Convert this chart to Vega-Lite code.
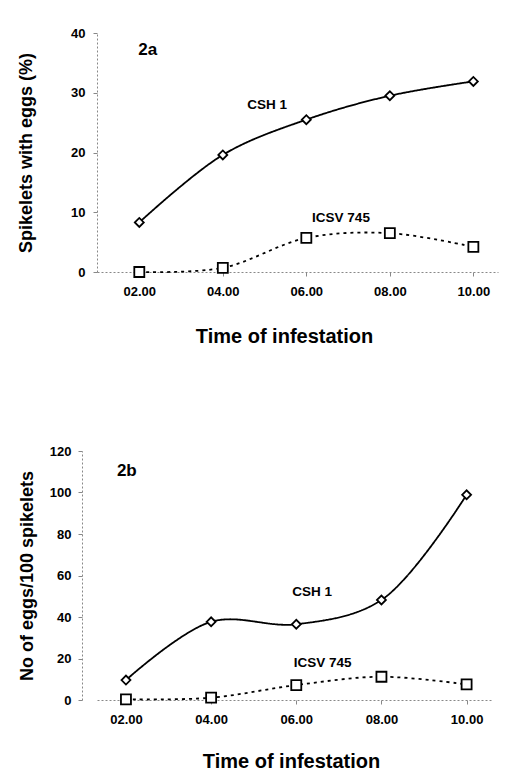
{
  "$schema": "https://vega.github.io/schema/vega-lite/v6.json",
  "background": "white",
  "padding": {"left": 17, "top": 27, "right": 5, "bottom": 0},
  "spacing": 99,
  "config": {
    "view": {"stroke": null},
    "font": "Liberation Sans",
    "axis": {
      "labelFont": "Liberation Sans", "labelFontWeight": "bold", "labelFontSize": 13, "labelColor": "black",
      "titleFont": "Liberation Sans", "titleFontWeight": "bold", "titleColor": "black",
      "grid": false, "domainColor": "#888", "domainDash": [2, 2], "domainWidth": 1,
      "tickColor": "#888", "tickSize": 4
    }
  },
  "datasets": {
    "a": [
      {"hour": 2, "value": 8.3, "series": "CSH 1"},
      {"hour": 4, "value": 19.6, "series": "CSH 1"},
      {"hour": 6, "value": 25.5, "series": "CSH 1"},
      {"hour": 8, "value": 29.5, "series": "CSH 1"},
      {"hour": 10, "value": 31.9, "series": "CSH 1"},
      {"hour": 2, "value": 0, "series": "ICSV 745"},
      {"hour": 4, "value": 0.7, "series": "ICSV 745"},
      {"hour": 6, "value": 5.7, "series": "ICSV 745"},
      {"hour": 8, "value": 6.5, "series": "ICSV 745"},
      {"hour": 10, "value": 4.2, "series": "ICSV 745"}
    ],
    "b": [
      {"hour": 2, "value": 9.6, "series": "CSH 1"},
      {"hour": 4, "value": 37.7, "series": "CSH 1"},
      {"hour": 6, "value": 36.5, "series": "CSH 1"},
      {"hour": 8, "value": 48.2, "series": "CSH 1"},
      {"hour": 10, "value": 98.9, "series": "CSH 1"},
      {"hour": 2, "value": 0.3, "series": "ICSV 745"},
      {"hour": 4, "value": 1.1, "series": "ICSV 745"},
      {"hour": 6, "value": 7.2, "series": "ICSV 745"},
      {"hour": 8, "value": 11.2, "series": "ICSV 745"},
      {"hour": 10, "value": 7.5, "series": "ICSV 745"}
    ],
    "alab": [
      {"hour": 5.06, "value": 27.9, "label": "CSH 1"},
      {"hour": 6.83, "value": 9.0, "label": "ICSV 745"}
    ],
    "blab": [
      {"hour": 6.37, "value": 52, "label": "CSH 1"},
      {"hour": 6.62, "value": 17.8, "label": "ICSV 745"}
    ],
    "atag": [{"hour": 2.2, "value": 37.1, "label": "2a"}],
    "btag": [{"hour": 2.02, "value": 110.4, "label": "2b"}]
  },
  "vconcat": [
    {
      "width": 401, "height": 239,
      "encoding": {
        "x": {"field": "hour", "type": "quantitative",
          "scale": {"domain": [0.987, 10.59], "nice": false, "zero": false},
          "axis": {"values": [2, 4, 6, 8, 10], "labelExpr": "(datum.value < 10 ? '0' : '') + datum.value + '.00'",
            "labelPadding": 9, "title": "Time of infestation", "titleFontSize": 20, "titlePadding": 28, "titleX": 187}},
        "y": {"field": "value", "type": "quantitative",
          "scale": {"domain": [0, 40], "nice": false},
          "axis": {"values": [0, 10, 20, 30, 40], "labelPadding": 8, "title": "Spikelets with eggs (%)",
            "titleFontSize": 18, "titlePadding": 35}}
      },
      "layer": [
        {"data": {"name": "a"},
          "mark": {"type": "line", "interpolate": "catmull-rom", "color": "black", "strokeWidth": 1.8},
          "encoding": {"detail": {"field": "series"},
            "strokeDash": {"field": "series", "type": "nominal", "scale": {"domain": ["CSH 1", "ICSV 745"], "range": [[1, 0], [3, 4]]}, "legend": null}}},
        {"data": {"name": "a"},
          "mark": {"type": "point", "filled": true, "fill": "white", "stroke": "black", "strokeWidth": 1.8, "opacity": 1},
          "encoding": {
            "shape": {"field": "series", "type": "nominal", "scale": {"domain": ["CSH 1", "ICSV 745"], "range": ["diamond", "square"]}, "legend": null},
            "size": {"field": "series", "type": "nominal", "scale": {"domain": ["CSH 1", "ICSV 745"], "range": [80, 100]}, "legend": null}}},
        {"data": {"name": "alab"},
          "mark": {"type": "text", "font": "Liberation Sans", "fontWeight": "bold", "fontSize": 13.5, "color": "black"},
          "encoding": {"text": {"field": "label"}}},
        {"data": {"name": "atag"},
          "mark": {"type": "text", "font": "Liberation Sans", "fontWeight": "bold", "fontSize": 17, "color": "black"},
          "encoding": {"text": {"field": "label"}}}
      ]
    },
    {
      "width": 396, "height": 249,
      "encoding": {
        "x": {"field": "hour", "type": "quantitative",
          "scale": {"domain": [1.32, 10.62], "nice": false, "zero": false},
          "axis": {"values": [2, 4, 6, 8, 10], "labelExpr": "(datum.value < 10 ? '0' : '') + datum.value + '.00'",
            "labelPadding": 9, "title": "Time of infestation", "titleFontSize": 20, "titlePadding": 25, "titleX": 194}},
        "y": {"field": "value", "type": "quantitative",
          "scale": {"domain": [0, 120], "nice": false},
          "axis": {"values": [0, 20, 40, 60, 80, 100, 120], "offset": 15, "labelPadding": 7, "title": "No of eggs/100 spikelets",
            "titleFontSize": 18, "titlePadding": 13}}
      },
      "layer": [
        {"data": {"name": "b"},
          "mark": {"type": "line", "interpolate": "catmull-rom", "color": "black", "strokeWidth": 1.8},
          "encoding": {"detail": {"field": "series"},
            "strokeDash": {"field": "series", "type": "nominal", "scale": {"domain": ["CSH 1", "ICSV 745"], "range": [[1, 0], [3, 4]]}, "legend": null}}},
        {"data": {"name": "b"},
          "mark": {"type": "point", "filled": true, "fill": "white", "stroke": "black", "strokeWidth": 1.8, "opacity": 1},
          "encoding": {
            "shape": {"field": "series", "type": "nominal", "scale": {"domain": ["CSH 1", "ICSV 745"], "range": ["diamond", "square"]}, "legend": null},
            "size": {"field": "series", "type": "nominal", "scale": {"domain": ["CSH 1", "ICSV 745"], "range": [80, 100]}, "legend": null}}},
        {"data": {"name": "blab"},
          "mark": {"type": "text", "font": "Liberation Sans", "fontWeight": "bold", "fontSize": 13.5, "color": "black"},
          "encoding": {"text": {"field": "label"}}},
        {"data": {"name": "btag"},
          "mark": {"type": "text", "font": "Liberation Sans", "fontWeight": "bold", "fontSize": 17, "color": "black"},
          "encoding": {"text": {"field": "label"}}}
      ]
    }
  ]
}
